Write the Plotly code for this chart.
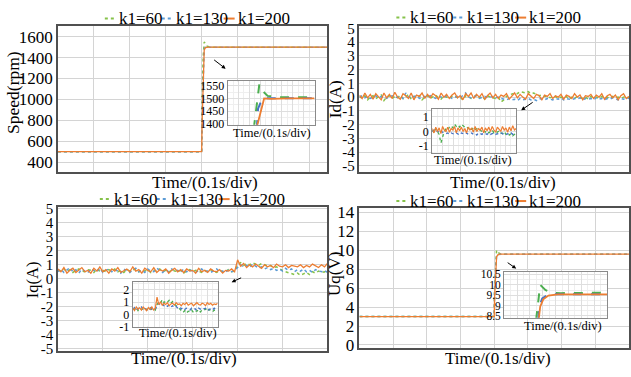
import numpy as np
import plotly.graph_objects as go

W, H = 631, 377
FONT = "Liberation Serif"
GREEN, BLUE, ORANGE = "#86C24A", "#5B9BD5", "#ED7D31"
GREEN_IN, BLUE_IN = "#4CAF50", "#4472C4"

series_names = ["k1=60", "k1=130", "k1=200"]
time_label = "Time/(0.1s/div)"

# ---------------- Speed ----------------
speed_t = [0, 0.4, 0.401, 0.404, 0.407, 0.41, 0.415, 0.42, 0.43, 0.75]
speed_k60 = [500, 500, 900, 1400, 1550, 1530, 1510, 1505, 1500, 1500]
speed_k130 = [500, 500, 800, 1300, 1480, 1500, 1500, 1500, 1500, 1500]
speed_k200 = [500, 500, 750, 1250, 1470, 1495, 1500, 1500, 1500, 1500]

speed_in_t60 = [0.3, 0.365, 0.4, 0.46, 0.6, 0.8, 1.0]
speed_in_k60 = [1380, 1555, 1530, 1510, 1505, 1506, 1505]
speed_in_t130 = [0.335, 0.35, 0.4, 0.5, 1.0]
speed_in_k130 = [1380, 1460, 1500, 1501, 1501]
speed_in_t200 = [0.33, 0.42, 0.5, 0.7, 1.0]
speed_in_k200 = [1380, 1500, 1498, 1500, 1500]

speed_ticks = [400, 600, 800, 1000, 1200, 1400, 1600]
speed_in_ticks = [1400, 1450, 1500, 1550]

# ---------------- Id ----------------
id_k200 = [0.15,-0.1,0.3,-0.05,0.2,-0.15,0.25,0.05,-0.2,0.3,
           -0.05,0.2,-0.1,0.35,0.0,-0.15,0.25,0.1,-0.1,0.3,
           -0.2,0.15,0.05,0.3,-0.1,0.2,-0.05,0.25,0.1,-0.15,
           0.3,0.0,0.2,-0.1,0.15,0.3,-0.05,0.1,-0.2,0.25,
           0.05,0.3,-0.1,0.2,0.0,0.25,-0.15,0.1,0.3,-0.05,
           0.2,-0.1,0.15,0.05,0.25,-0.15,0.1,0.3,-0.05,0.2,
           0.0,-0.15,0.25,0.05,-0.1,0.2,0.1,-0.2,0.15,0.05,
           0.25,-0.1,0.1,0.0,0.2,-0.15,0.15,0.05,-0.1,0.25,
           0.0,0.15,-0.2,0.1,0.05,0.2,-0.1,0.15,0.0,0.25,
           -0.15,0.1,0.2,-0.05,0.15,-0.2,0.1,0.25,-0.1,0.05]
id_k60 = [0.05,-0.1,0.1,-0.2,0.0,0.1,-0.15,0.05,0.15,-0.25,
          0.0,0.1,-0.1,0.05,-0.05,0.15,-0.1,0.0,0.2,-0.15,
          0.05,-0.05,0.1,-0.2,0.0,0.1,-0.1,0.05,0.15,-0.05,
          -0.15,0.1,0.0,-0.1,0.05,0.1,-0.05,0.0,-0.2,0.1,
          0.05,-0.1,0.0,0.15,-0.05,0.05,-0.15,0.1,0.0,-0.05,
          -0.1,0.0,-0.35,-0.2,0.05,0.15,0.2,0.3,0.25,0.4,
          0.35,0.3,0.4,0.25,0.3,0.2,0.1,0.15,0.05,0.1,
          -0.05,0.0,0.05,-0.1,0.0,-0.05,0.05,-0.15,0.0,-0.1,
          0.05,-0.05,-0.1,0.0,-0.15,0.05,-0.05,0.0,-0.1,0.05,
          -0.05,0.0,-0.1,0.05,-0.05,0.0,-0.1,0.0,0.05,-0.05]
id_k130 = [0.0,0.1,-0.05,0.05,-0.1,0.0,0.1,-0.05,0.05,0.0,
           -0.1,0.05,0.1,-0.05,0.0,0.05,-0.1,0.3,0.0,-0.05,
           0.05,0.1,-0.1,0.0,0.05,-0.05,0.1,0.0,-0.1,0.05,
           0.0,-0.05,0.1,0.05,-0.1,0.0,0.05,-0.05,0.1,0.3,
           0.0,-0.05,0.05,0.1,-0.1,0.0,0.05,-0.05,0.0,0.05,
           -0.05,0.0,-0.1,-0.15,-0.2,-0.1,-0.2,-0.15,-0.25,-0.1,
           -0.2,-0.15,-0.1,-0.2,-0.15,-0.25,-0.1,-0.15,-0.2,-0.1,
           -0.15,-0.2,-0.1,-0.15,-0.05,-0.2,-0.1,-0.15,-0.2,-0.1,
           -0.15,-0.05,-0.2,-0.1,-0.15,-0.1,-0.2,-0.05,-0.15,-0.1,
           -0.2,-0.1,-0.15,-0.05,-0.1,-0.2,-0.1,-0.15,-0.05,-0.1]

id_in_k200 = [0.2,-0.1,0.3,0.0,0.25,-0.15,0.35,0.1,0.0,0.3,
              -0.05,0.2,0.1,0.35,-0.1,0.25,0.05,0.3,0.0,0.2,
              -0.1,0.3,0.1,0.25,-0.05,0.35,0.0,0.2,0.1,0.3,
              -0.1,0.25,0.05,0.3,0.0,0.35,0.1,-0.05,0.3,0.15,
              0.0,0.35,0.1,0.25,-0.05,0.3,0.05,0.4,0.1,0.2]
id_in_k60 = [0.1,-0.1,0.2,0.0,-0.2,-0.8,-0.3,0.0,0.2,0.1,
             0.3,0.4,0.25,0.5,0.35,0.45,0.3,0.5,0.4,0.3,
             0.35,0.2,0.3,0.15,0.25,0.1,0.2,0.05,0.1,0.0,
             0.1,-0.05,0.05,-0.1,0.0,0.1,-0.1,0.0,-0.05,0.05,
             -0.1,-0.15,0.0,-0.2,-0.1,-0.25,-0.15,-0.3,-0.2,-0.3]
id_in_k130 = [0.0,0.1,-0.05,0.05,-0.1,0.0,-0.05,-0.1,-0.15,-0.1,
              -0.2,-0.1,-0.15,-0.2,-0.1,-0.15,-0.25,-0.1,-0.15,-0.2,
              -0.1,-0.2,-0.15,-0.1,-0.2,-0.15,-0.25,-0.1,-0.15,-0.2,
              -0.1,-0.15,-0.2,-0.1,-0.2,-0.15,-0.1,-0.2,-0.15,-0.2,
              -0.1,-0.15,-0.2,-0.25,-0.15,-0.2,-0.1,-0.2,-0.15,-0.2]

i_ticks = [-5, -4, -3, -2, -1, 0, 1, 2, 3, 4, 5]
i_tick_text = ["-5", "-4", "-3", "-2", "-1", "0", "1", "2", "3", "4", "5"]
id_in_ticks = [-1, 0, 1]
id_in_tick_text = ["-1", "0", "1"]

# ---------------- Iq ----------------
iq_k200 = [0.7,0.5,0.8,0.4,0.6,0.75,0.45,0.65,0.8,0.5,
           0.6,0.4,0.75,0.55,0.85,0.5,0.65,0.4,0.7,0.55,
           0.8,0.45,0.6,0.7,0.5,0.85,0.55,0.65,0.4,0.75,
           0.6,0.5,0.8,0.45,0.65,0.55,0.7,0.4,0.6,0.75,
           0.5,0.65,0.45,0.7,0.55,0.6,0.4,0.75,0.5,0.6,
           0.45,0.7,0.55,0.5,0.65,0.4,0.6,0.55,0.7,0.5,
           1.35,0.9,1.1,0.8,1.0,0.85,1.05,0.9,0.75,1.0,
           0.85,0.95,0.8,1.05,0.9,0.85,1.0,0.8,0.95,0.9,
           0.85,1.0,0.8,0.95,0.85,1.05,0.9,0.8,1.0,0.85,1.1]
iq_k130 = [0.5,0.7,0.45,0.6,0.8,0.5,0.65,0.4,0.7,0.55,
           0.45,0.7,0.6,0.5,0.75,0.45,0.6,0.7,0.5,0.65,
           0.55,0.4,0.7,0.6,0.45,0.65,0.75,0.5,0.6,0.45,
           0.7,0.55,0.5,0.75,0.6,0.45,0.65,0.5,0.7,0.55,
           0.6,0.45,0.7,0.5,0.65,0.55,0.45,0.6,0.7,0.5,
           0.55,0.45,0.6,0.7,0.5,0.55,0.45,0.65,0.5,0.6,
           0.8,1.0,0.85,0.95,0.8,1.05,0.9,0.75,0.85,0.7,
           0.8,0.65,0.75,0.6,0.7,0.55,0.75,0.6,0.7,0.5,
           0.65,0.55,0.7,0.5,0.6,0.45,0.65,0.55,0.5,0.6,0.45]
iq_k60 = [0.6,0.55,0.7,0.5,0.65,0.45,0.6,0.7,0.55,0.5,
          0.65,0.6,0.45,0.7,0.55,0.6,0.5,0.65,0.55,0.7,
          0.5,0.6,0.45,0.65,0.55,0.6,0.7,0.5,0.6,0.55,
          0.65,0.45,0.6,0.55,0.7,0.5,0.6,0.45,0.65,0.55,
          0.5,0.6,0.4,0.55,0.65,0.5,0.6,0.55,0.45,0.6,
          0.5,0.65,0.55,0.45,0.6,0.5,0.55,0.65,0.5,0.55,
          1.0,1.15,0.95,1.1,1.0,1.15,1.05,0.95,1.1,1.0,
          0.9,0.95,0.8,0.85,0.7,0.6,0.5,0.45,0.35,0.3,
          0.4,0.25,0.35,0.45,0.3,0.5,0.4,0.55,0.45,0.5,0.4]

iq_in_k200 = [0.5,0.3,0.6,0.4,0.55,0.35,0.6,0.45,0.3,0.55,
              0.4,0.6,0.35,0.5,1.4,0.8,1.0,0.75,0.9,0.8,
              0.95,0.7,0.85,0.9,0.75,0.95,0.8,0.85,0.7,0.9,
              0.8,0.95,0.75,0.85,0.9,0.7,0.85,0.95,0.8,0.75,
              0.9,0.85,0.7,0.95,0.8,0.9,0.75,0.85,0.8,0.9]
iq_in_k130 = [0.4,0.55,0.35,0.5,0.45,0.6,0.4,0.5,0.35,0.45,
              0.55,0.4,0.5,0.45,0.7,0.9,0.75,0.85,0.7,0.8,
              0.65,0.75,0.6,0.7,0.55,0.65,0.5,0.6,0.45,0.55,
              0.4,0.5,0.45,0.35,0.5,0.4,0.45,0.3,0.5,0.4,
              0.35,0.45,0.5,0.3,0.4,0.45,0.35,0.5,0.4,0.3]
iq_in_k60 = [0.45,0.4,0.55,0.3,0.5,0.4,0.45,0.55,0.35,0.5,
             0.4,0.45,0.5,0.35,0.8,1.0,0.9,1.2,0.95,1.1,
             1.0,1.15,0.9,1.05,0.85,0.7,0.6,0.45,0.3,0.15,
             0.3,0.1,0.25,0.2,0.35,0.15,0.3,0.25,0.4,0.2,
             0.35,0.3,0.45,0.25,0.4,0.3,0.2,0.35,0.3,0.4]
iq_in_ticks = [-1, 0, 1, 2]
iq_in_tick_text = ["-1", "0", "1", "2"]

# ---------------- Uq ----------------
uq_t = [0, 0.4, 0.401, 0.404, 0.407, 0.41, 0.415, 0.42, 0.43, 0.8]
uq_k60 = [3.0, 3.0, 6.0, 9.0, 10.0, 9.8, 9.65, 9.6, 9.6, 9.6]
uq_k130 = [3.0, 3.0, 5.5, 8.5, 9.4, 9.55, 9.6, 9.6, 9.6, 9.6]
uq_k200 = [3.0, 3.0, 5.0, 8.2, 9.3, 9.5, 9.6, 9.6, 9.6, 9.6]

uq_in_t60 = [0.31, 0.35, 0.4, 0.46, 0.55, 0.8, 1.0]
uq_in_k60 = [8.3, 10.0, 9.75, 9.62, 9.6, 9.6, 9.62]
uq_in_t130 = [0.33, 0.345, 0.37, 0.42, 0.5, 1.0]
uq_in_k130 = [8.3, 9.0, 9.35, 9.5, 9.55, 9.55]
uq_in_t200 = [0.335, 0.35, 0.38, 0.43, 0.52, 1.0]
uq_in_k200 = [8.3, 8.95, 9.3, 9.48, 9.54, 9.54]

uq_ticks = [0, 2, 4, 6, 8, 10, 12, 14]
uq_in_ticks = [8.5, 9, 9.5, 10, 10.5]
uq_in_tick_text = ["8.5", "9", "9.5", "10", "10.5"]


def px(x):
    return x / W


def py(y):
    return 1 - y / H


fig = go.Figure()

# main axis boxes (pixel): x0, x1, y0(top), y1(bottom)
main_boxes = {
    1: (58, 328, 21, 172),
    2: (360, 630, 21, 172),
    3: (58, 328, 208, 357),
    4: (360, 630, 209, 354),
}
inset_boxes = {
    5: (228, 315, 78, 123),
    6: (433, 517, 107, 152),
    7: (133, 218, 286, 332),
    8: (505, 608, 275, 323),
}


def ax_name(i, kind):
    return kind + ("" if i == 1 else str(i))


def ref(i, kind):
    return kind[0] + ("" if i == 1 else str(i))


def main_axes(i, xr, yr, tickvals, ticktext, fsize):
    x0, x1, yt, yb = main_boxes[i]
    fig.layout[ax_name(i, "xaxis")] = dict(
        domain=[px(x0), px(x1)], range=xr, anchor=ref(i, "y"),
        dtick=0.1, tick0=0, showticklabels=False, ticks="",
        showgrid=True, gridcolor="#d4d4d4", gridwidth=1, zeroline=False,
        showline=True, mirror=True, linecolor="#505050", linewidth=1.5)
    fig.layout[ax_name(i, "yaxis")] = dict(
        domain=[py(yb), py(yt)], range=yr, anchor=ref(i, "x"),
        tickmode="array", tickvals=tickvals, ticktext=ticktext, ticks="",
        tickfont=dict(size=fsize, color="black", family=FONT),
        showgrid=True, gridcolor="#d4d4d4", gridwidth=1, zeroline=False,
        showline=True, mirror=True, linecolor="#505050", linewidth=1.5)


def inset_axes(i, xr, yr, tickvals, ticktext, ydtick_minor, fsize):
    x0, x1, yt, yb = inset_boxes[i]
    fig.layout[ax_name(i, "xaxis")] = dict(
        domain=[px(x0), px(x1)], range=xr, anchor=ref(i, "y"),
        dtick=0.125, tick0=0, showticklabels=False, ticks="",
        showgrid=True, gridcolor="#dedede", gridwidth=1, zeroline=False,
        minor=dict(dtick=0.0625, showgrid=True, gridcolor="#efefef"),
        showline=True, mirror=True, linecolor="#8a8a8a", linewidth=1.2)
    fig.layout[ax_name(i, "yaxis")] = dict(
        domain=[py(yb), py(yt)], range=yr, anchor=ref(i, "x"),
        tickmode="array", tickvals=tickvals, ticktext=ticktext, ticks="",
        tickfont=dict(size=fsize, color="black", family=FONT),
        showgrid=True, gridcolor="#dedede", gridwidth=1, zeroline=False,
        minor=dict(dtick=ydtick_minor, showgrid=True, gridcolor="#efefef"),
        showline=True, mirror=True, linecolor="#8a8a8a", linewidth=1.2)


def add3(i, xs, ys, styles):
    for x, y, st in zip(xs, ys, styles):
        fig.add_trace(go.Scatter(x=x, y=y, mode="lines", line=st,
                                 xaxis=ref(i, "x"), yaxis=ref(i, "y"),
                                 showlegend=False, hoverinfo="skip"))


main_styles = [dict(color=GREEN, width=1.5, dash="dot"),
               dict(color=BLUE, width=1.5, dash="dot"),
               dict(color=ORANGE, width=1.3)]
step_in_styles = [dict(color=GREEN_IN, width=2, dash="dash"),
                  dict(color=BLUE_IN, width=2, dash="dash"),
                  dict(color=ORANGE, width=1.8)]
noise_in_styles = [dict(color=GREEN_IN, width=1.3, dash="dot"),
                   dict(color=BLUE_IN, width=1.3, dash="dot"),
                   dict(color=ORANGE, width=1.2)]

# axes
main_axes(1, [0, 0.75], [305, 1700], speed_ticks, [str(v) for v in speed_ticks], 17)
main_axes(2, [0, 0.8], [-5.45, 5.15], i_ticks, i_tick_text, 15)
main_axes(3, [0, 0.6], [-5.14, 5.14], i_ticks, i_tick_text, 15)
main_axes(4, [0, 0.8], [-0.3, 14.5], uq_ticks, [str(v) for v in uq_ticks], 17)
inset_axes(5, [0, 1], [1397, 1567], speed_in_ticks, [str(v) for v in speed_in_ticks], 25, 12)
inset_axes(6, [0, 1], [-1.47, 1.53], id_in_ticks, id_in_tick_text, 0.5, 12)
inset_axes(7, [0, 1], [-1.0, 2.63], iq_in_ticks, iq_in_tick_text, 0.5, 12)
inset_axes(8, [0, 1], [8.41, 10.64], uq_in_ticks, uq_in_tick_text, 0.25, 11.5)

# traces
add3(1, [speed_t] * 3, [speed_k60, speed_k130, speed_k200], main_styles)
t_id = np.linspace(0, 0.8, len(id_k200))
add3(2, [t_id] * 3, [id_k60, id_k130, id_k200], main_styles)
t_iq = np.linspace(0, 0.6, len(iq_k200))
add3(3, [t_iq] * 3, [iq_k60, iq_k130, iq_k200], main_styles)
add3(4, [uq_t] * 3, [uq_k60, uq_k130, uq_k200], main_styles)

add3(5, [speed_in_t60, speed_in_t130, speed_in_t200],
     [speed_in_k60, speed_in_k130, speed_in_k200], step_in_styles)
t_in = np.linspace(0, 1, len(id_in_k200))
add3(6, [t_in] * 3, [id_in_k60, id_in_k130, id_in_k200], noise_in_styles)
t_in2 = np.linspace(0, 1, len(iq_in_k200))
add3(7, [t_in2] * 3, [iq_in_k60, iq_in_k130, iq_in_k200], noise_in_styles)
add3(8, [uq_in_t60, uq_in_t130, uq_in_t200],
     [uq_in_k60, uq_in_k130, uq_in_k200], step_in_styles)

annotations = []
shapes = []


def text(x, y, s, size, angle=0, xanchor="center"):
    annotations.append(dict(x=px(x), y=py(y), xref="paper", yref="paper",
                            text=s, showarrow=False, textangle=angle,
                            xanchor=xanchor, yanchor="middle",
                            font=dict(family=FONT, size=size, color="black")))


# axis titles
text(205, 183, time_label, 17)
text(504, 183, time_label, 17)
text(184, 365, time_label, 17)
text(499, 365, time_label, 17)
text(13, 89, "Speed(rpm)", 17.5, -90)
text(336, 96, "Id(A)", 17, -90)
text(32, 283, "Iq(A)", 16.5, -90)
text(335, 277, "Uq(V)", 17, -90)

# inset titles
text(272, 132, time_label, 12.5)
text(474, 160, time_label, 12.5)
text(178, 339, time_label, 12.5)
text(564, 331, time_label, 12.5)

# arrows: head (x,y), tail offset
for hx, hy, dx, dy in [(226, 65, -13, -10), (522, 108, 13, -9),
                       (232, 286, 11, -5), (517, 272, -10, -7)]:
    annotations.append(dict(x=px(hx), y=py(hy), xref="paper", yref="paper",
                            ax=dx, ay=dy, text="", showarrow=True,
                            arrowhead=2, arrowsize=0.8, arrowwidth=1,
                            arrowcolor="black"))

# legends (manual, above each panel)
leg_colors = [GREEN, BLUE, ORANGE]
leg_dash = ["dot", "dot", "solid"]
leg_offsets = [0, 57, 119]
for x0, y0 in [(105, 13), (397, 12), (100, 200), (397, 202)]:
    for name, col, dsh, off in zip(series_names, leg_colors, leg_dash, leg_offsets):
        shapes.append(dict(type="line", xref="paper", yref="paper",
                           x0=px(x0 + off), x1=px(x0 + off + 11),
                           y0=py(y0), y1=py(y0),
                           line=dict(color=col, width=2, dash=dsh)))
        text(x0 + off + 12, y0, name, 17, xanchor="left")

fig.update_layout(
    width=W, height=H, margin=dict(l=0, r=0, t=0, b=0),
    paper_bgcolor="white", plot_bgcolor="white",
    font=dict(family=FONT, size=17, color="black"),
    showlegend=False, annotations=annotations, shapes=shapes)

fig.write_html("out.html", config={"displayModeBar": False},
               post_script="document.body.style.margin='0';document.body.style.padding='0';")
